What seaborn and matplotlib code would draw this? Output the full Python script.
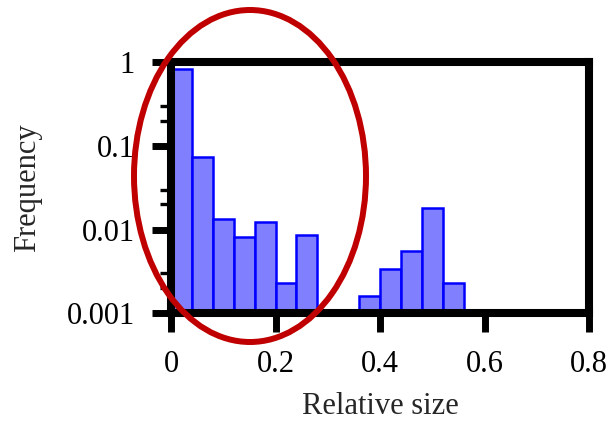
import matplotlib
matplotlib.use("Agg")
import matplotlib.pyplot as plt
from matplotlib.patches import Ellipse
from matplotlib.ticker import LogLocator, NullFormatter
import pandas as pd
import seaborn as sns

# histogram bins (left edge, width 0.04) and their frequencies
bin_left = [0.00, 0.04, 0.08, 0.12, 0.16, 0.20, 0.24, 0.36, 0.40, 0.44, 0.48, 0.52]
freq = [0.82, 0.074, 0.0133, 0.0082, 0.0124, 0.0023, 0.0086,
        0.0016, 0.0034, 0.0056, 0.018, 0.0023]
bin_width = 0.04
x_ticks = [0, 0.2, 0.4, 0.6, 0.8]
x_labels = ["0", "0.2", "0.4", "0.6", "0.8"]
y_ticks = [0.001, 0.01, 0.1, 1]
y_labels = ["0.001", "0.01", "0.1", "1"]

sns.set_theme(style="white")
plt.rcParams["font.family"] = ["Liberation Serif", "DejaVu Serif"]

fig = plt.figure(figsize=(6.16, 4.25), dpi=100)
ax = fig.add_axes([0.2776, 0.2624, 0.6786, 0.5917])

df = pd.DataFrame({"size": [b + bin_width / 2 for b in bin_left], "freq": freq})
edges = [round(bin_width * i, 2) for i in range(15)]
sns.histplot(data=df, x="size", weights="freq", bins=edges, ax=ax,
             facecolor="#8080ff", edgecolor="#0000ff", linewidth=1.8, alpha=1)

ax.set_yscale("log")
ax.set_xlim(0, 0.8)
ax.set_ylim(0.001, 1)
ax.set_xticks(x_ticks, x_labels)
ax.set_yticks(y_ticks, y_labels)
ax.yaxis.set_minor_locator(LogLocator(base=10, subs=(2, 3)))
ax.yaxis.set_minor_formatter(NullFormatter())

for s in ax.spines.values():
    s.set_visible(True)
    s.set_color("black")
    s.set_linewidth(5.8)

ax.tick_params(axis="both", which="major", direction="out", length=14, width=5,
               color="black", labelsize=22, labelcolor="black", pad=12,
               bottom=True, left=True)
ax.tick_params(axis="y", which="minor", direction="out", length=8, width=2.4,
               color="black", left=True)
ax.tick_params(axis="x", which="minor", bottom=False)

ax.set_xlabel("Relative size", fontsize=22, labelpad=10)
ax.set_ylabel("Frequency", fontsize=22, labelpad=18)

# red highlight ellipse drawn over the figure
ell = Ellipse((250 / 616, 1 - 176 / 425), 232 / 616, 332 / 425,
              transform=fig.transFigure, fill=False, edgecolor="#c00000",
              linewidth=4.3, clip_on=False, zorder=10)
fig.add_artist(ell)

fig.savefig("out.png", dpi=100)
